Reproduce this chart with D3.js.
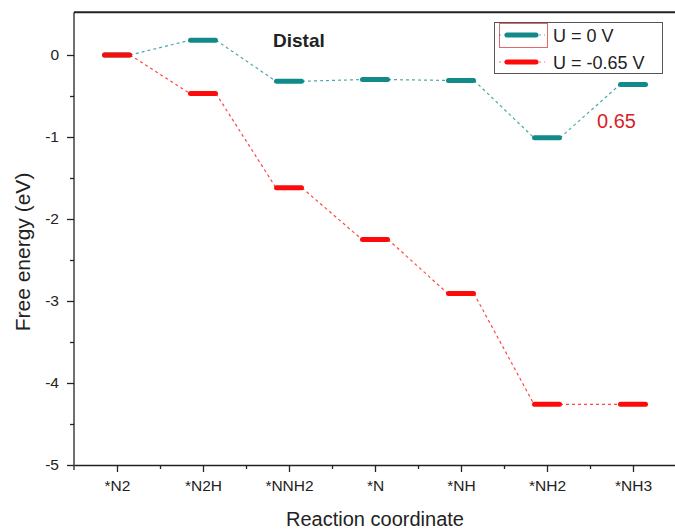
<!DOCTYPE html>
<html>
<head>
<meta charset="utf-8">
<script src="https://cdn.jsdelivr.net/npm/d3@7"></script>
<style>
  body { margin: 0; background: #fff; }
  text { font-family: Arial, "Liberation Sans", sans-serif; fill: #222; }
  .axis path, .axis line { stroke: #222; stroke-width: 1.3; }
  .axis text { font-size: 15.5px; fill: #222; }
</style>
</head>
<body>
<div id="chart"></div>
<script>
// free energy diagram, distal pathway
const steps = ["*N2", "*N2H", "*NNH2", "*N", "*NH", "*NH2", "*NH3"]
const energyU0 = [0, 0.18, -0.32, -0.30, -0.31, -1.01, -0.36]
const energyU065 = [0, -0.47, -1.62, -2.25, -2.91, -4.26, -4.26]
const yTicks = [0, -1, -2, -3, -4, -5]
const yMinor = [-0.5, -1.5, -2.5, -3.5, -4.5]
const seriesNames = ["U = 0 V", "U = -0.65 V"]
const colors = ["#138a8a", "#ff0a0a"]

const width = 675, height = 529

let svg = d3.select("#chart").append("svg")
    .attr("width", width)
    .attr("height", height)

let xScale = d3.scaleLinear()
    .domain([0.5, steps.length + 0.5])
    .range([74, 676])

let yScale = d3.scaleLinear()
    .domain([-5, 0])
    .range([465, 55])

const yTop = yScale(0.52)

// frame top
svg.append("line")
    .attr("x1", 74).attr("x2", 676)
    .attr("y1", yTop).attr("y2", yTop)
    .attr("stroke", "#222").attr("stroke-width", 2)

// x axis
let xAxis = d3.axisBottom(xScale)
    .tickValues(d3.range(1, steps.length + 1))
    .tickFormat(d => steps[d - 1])
    .tickSize(7)
    .tickSizeOuter(0)
    .tickPadding(8)

svg.append("g")
    .attr("class", "axis x-axis")
    .attr("transform", `translate(0, ${yScale(-5)})`)
    .call(xAxis)

svg.append("g")
    .attr("class", "axis x-minor")
    .attr("transform", `translate(0, ${yScale(-5)})`)
    .call(d3.axisBottom(xScale)
        .tickValues(d3.range(1.5, steps.length + 0.5, 1))
        .tickFormat("")
        .tickSize(4)
        .tickSizeOuter(0))
    .select(".domain").remove()

// y axis
let yAxis = d3.axisLeft(yScale)
    .tickValues(yTicks)
    .tickFormat(d => d === 0 ? "0" : String(d).replace("−", "-"))
    .tickSize(7)
    .tickSizeOuter(0)
    .tickPadding(8)

let yg = svg.append("g")
    .attr("class", "axis y-axis")
    .attr("transform", "translate(74,0)")
    .call(yAxis)
yg.select(".domain").attr("d", `M0,${yTop}V${yScale(-5) + 5}`)

svg.append("g")
    .attr("class", "axis y-minor")
    .attr("transform", "translate(74,0)")
    .call(d3.axisLeft(yScale)
        .tickValues(yMinor)
        .tickFormat("")
        .tickSize(4)
        .tickSizeOuter(0))
    .select(".domain").remove()

// axis titles
svg.append("text")
    .attr("x", 375).attr("y", 526)
    .attr("text-anchor", "middle")
    .style("font-size", "20px")
    .text("Reaction coordinate")

svg.append("text")
    .attr("transform", "translate(30,252) rotate(-90)")
    .attr("text-anchor", "middle")
    .style("font-size", "21px")
    .text("Free energy (eV)")

// levels
const half = 15
const series = [energyU0, energyU065]

series.forEach((vals, s) => {
    let g = svg.append("g")
    for (let i = 0; i < vals.length - 1; i++) {
        g.append("line")
            .attr("x1", xScale(i + 1) + half - 2)
            .attr("y1", yScale(vals[i]))
            .attr("x2", xScale(i + 2) - half + 2)
            .attr("y2", yScale(vals[i + 1]))
            .attr("stroke", colors[s])
            .attr("stroke-opacity", 0.75)
            .attr("stroke-width", 1.2)
            .attr("stroke-dasharray", "3,3")
    }
    g.selectAll(".level")
        .data(vals)
        .join("line")
        .attr("class", "level")
        .attr("x1", (d, i) => xScale(i + 1) - half + 2.5)
        .attr("x2", (d, i) => xScale(i + 1) + half - 2.5)
        .attr("y1", d => yScale(d))
        .attr("y2", d => yScale(d))
        .attr("stroke", colors[s])
        .attr("stroke-width", 5)
        .attr("stroke-linecap", "round")
})

// labels in plot
svg.append("text")
    .attr("x", 273).attr("y", 47)
    .style("font-size", "19px")
    .style("font-weight", "bold")
    .text("Distal")

svg.append("text")
    .attr("x", 597).attr("y", 128)
    .style("font-size", "20px")
    .style("fill", "#d81e25")
    .text((energyU0[6] - energyU0[5]).toFixed(2))

// legend
let legend = svg.append("g")
legend.append("rect")
    .attr("x", 494.5).attr("y", 22.5)
    .attr("width", 168).attr("height", 51)
    .attr("fill", "#fff")
    .attr("stroke", "#555").attr("stroke-width", 1)
legend.append("rect")
    .attr("x", 499.5).attr("y", 23.5)
    .attr("width", 48).attr("height", 24)
    .attr("fill", "none")
    .attr("stroke", "#e06a6a").attr("stroke-width", 1)

seriesNames.forEach((name, s) => {
    const ly = 35 + s * 27
    legend.append("line")
        .attr("x1", 499).attr("x2", 545)
        .attr("y1", ly).attr("y2", ly)
        .attr("stroke", colors[s])
        .attr("stroke-opacity", 0.6)
        .attr("stroke-width", 1)
        .attr("stroke-dasharray", "2,3")
    legend.append("line")
        .attr("x1", 507).attr("x2", 536)
        .attr("y1", ly).attr("y2", ly)
        .attr("stroke", colors[s])
        .attr("stroke-width", 5)
        .attr("stroke-linecap", "round")
    legend.append("text")
        .attr("x", 553).attr("y", ly + 7)
        .style("font-size", "18px")
        .text(name)
})
</script>
</body>
</html>
